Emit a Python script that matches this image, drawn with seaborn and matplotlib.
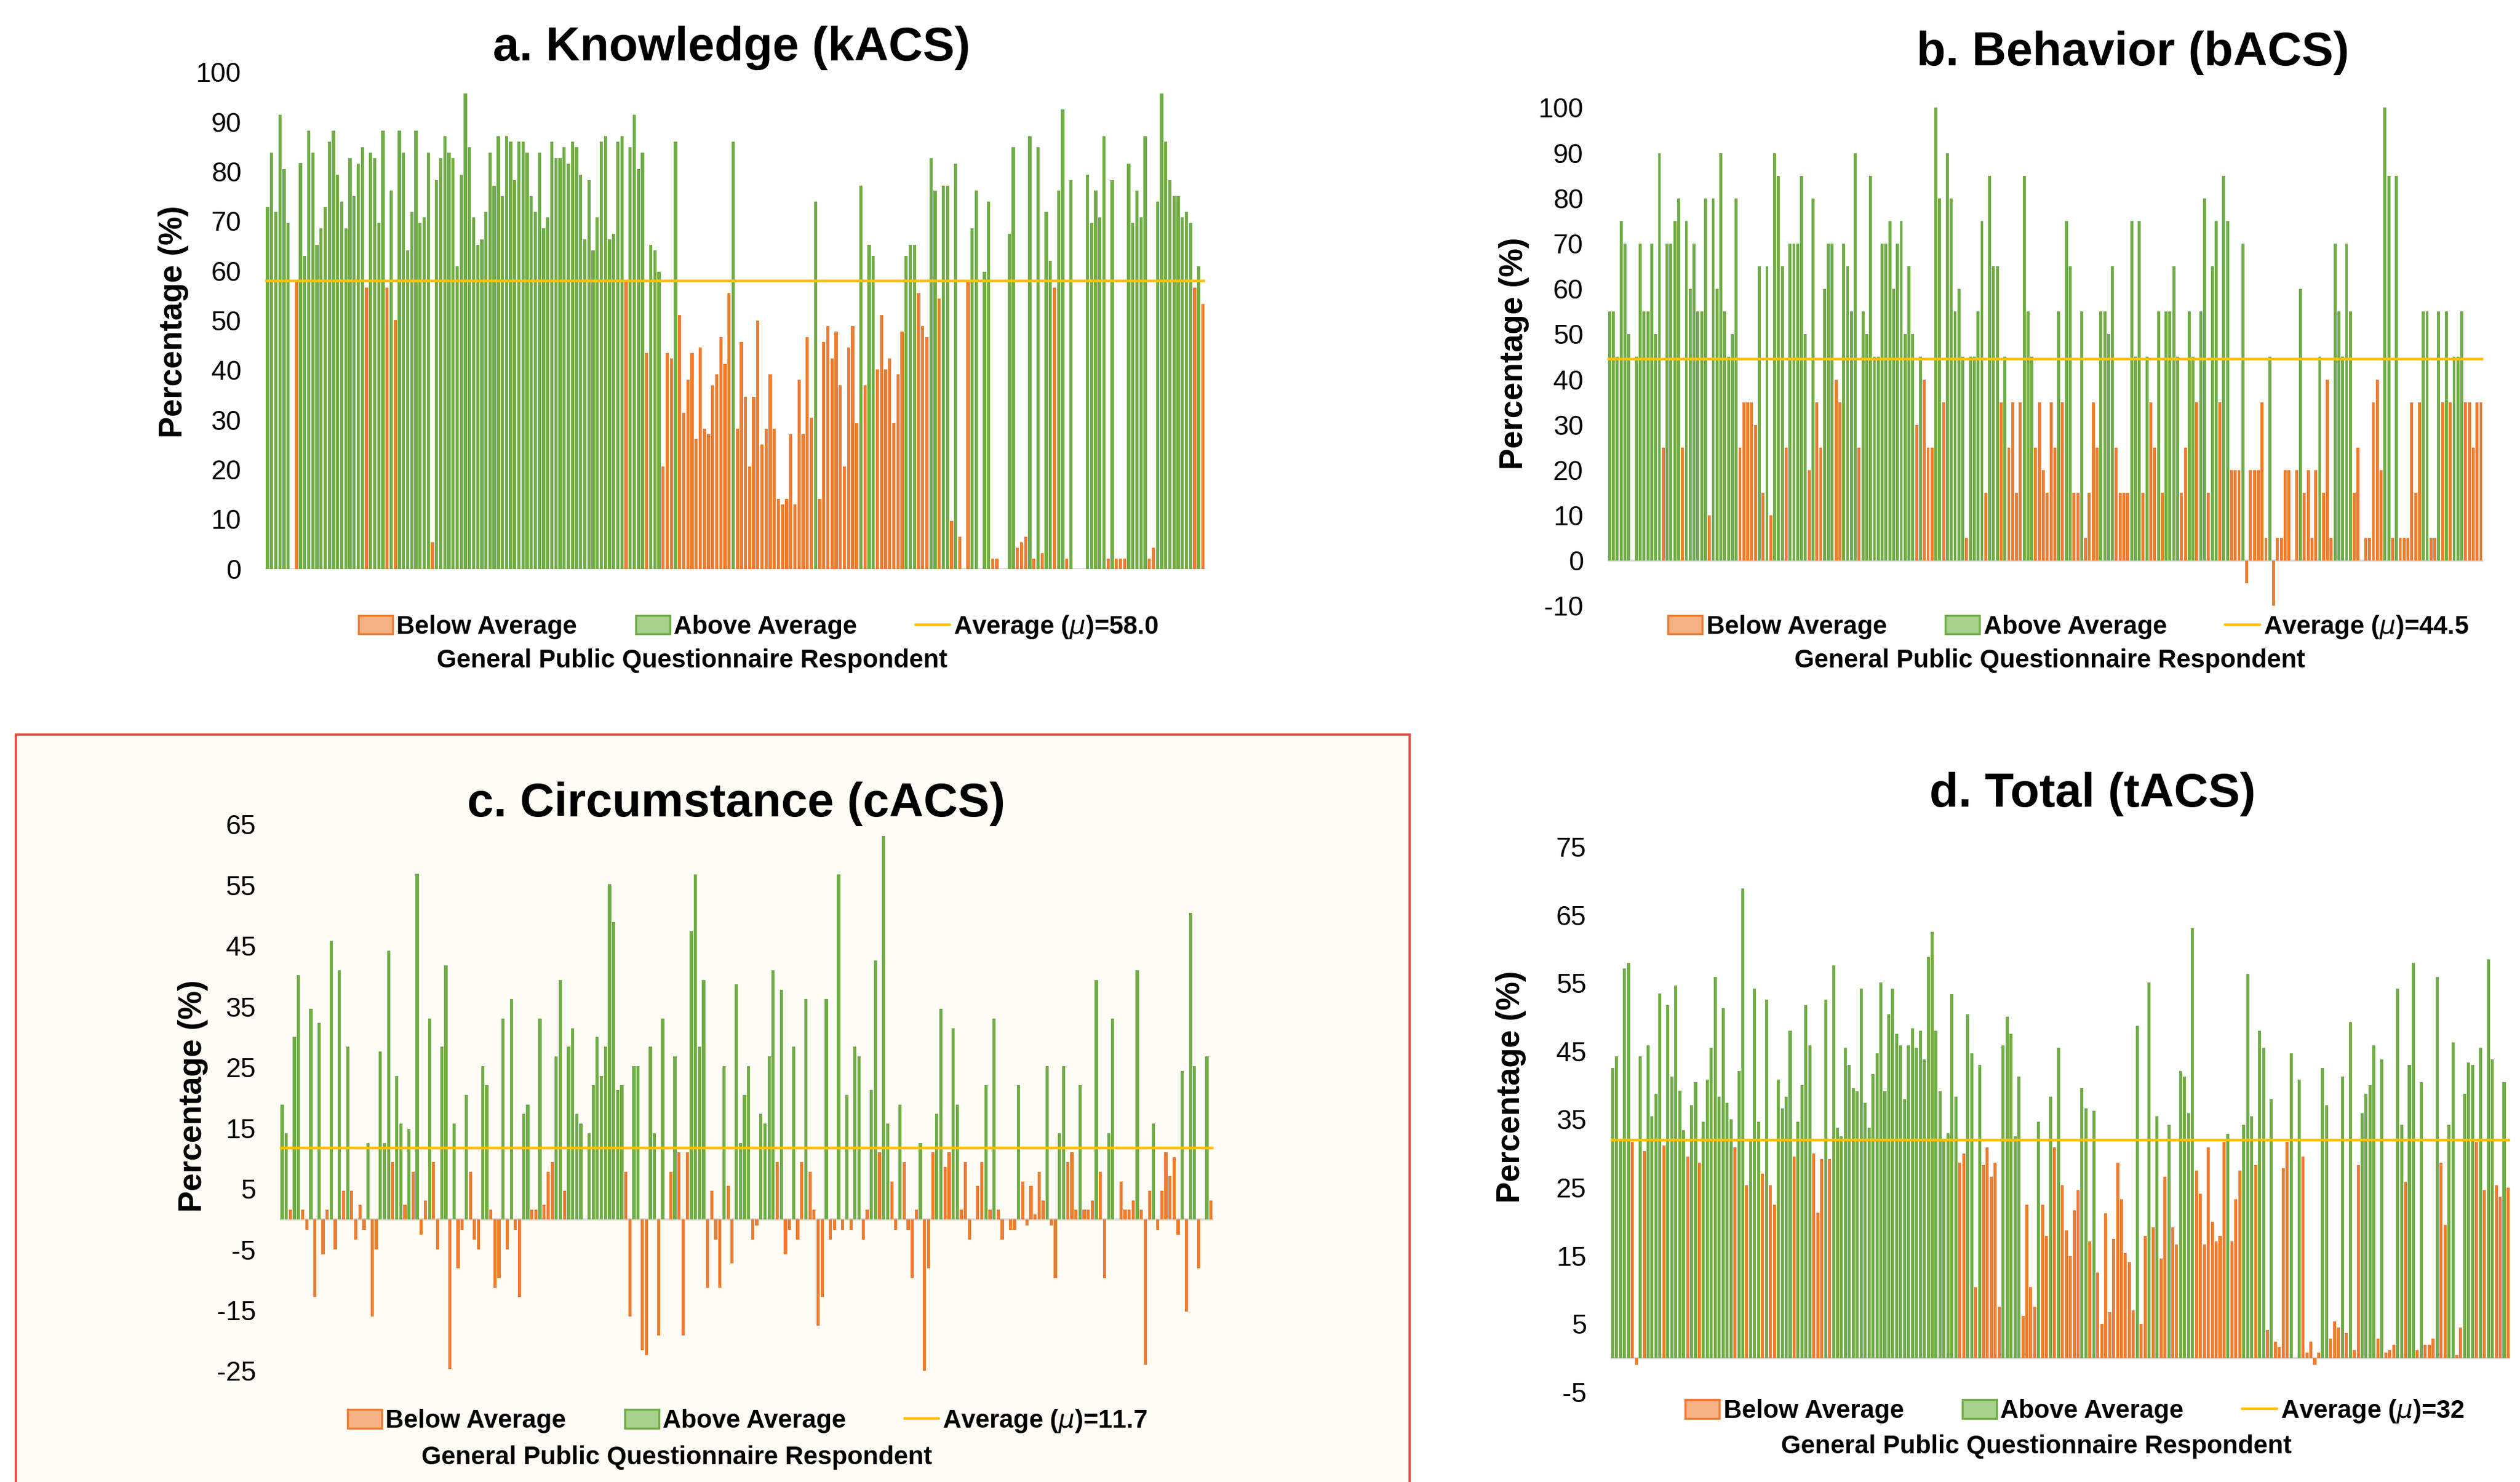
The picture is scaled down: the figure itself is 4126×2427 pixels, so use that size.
import numpy as np
import pandas as pd
import matplotlib
matplotlib.use("Agg")
import matplotlib.pyplot as plt
from matplotlib.patches import Patch, Rectangle
from matplotlib.lines import Line2D
import seaborn as sns

# scores per respondent
knowledge = [
    72.9, 83.8, 71.9, 91.4, 80.5, 69.7, 0, 57.7, 81.7, 63.1,
    88.2, 83.8, 65.3, 68.6, 72.9, 86.0, 88.2, 79.4, 74.0, 68.6,
    82.7, 75.1, 81.6, 84.9, 56.6, 83.8, 82.7, 69.7, 88.2, 56.6,
    76.2, 50.1, 88.2, 83.8, 64.2, 71.9, 88.2, 69.7, 70.8, 83.8,
    5.4, 78.3, 82.7, 87.1, 83.8, 82.7, 60.9, 79.4, 95.8, 84.9,
    70.8, 65.3, 66.4, 71.9, 83.8, 77.2, 87.1, 75.1, 87.1, 86.0,
    78.3, 86.0, 86.0, 83.8, 75.1, 71.9, 83.8, 68.6, 70.8, 86.0,
    82.7, 82.7, 84.9, 81.6, 86.0, 84.9, 79.4, 66.4,
    78.3, 64.2, 70.8, 86.0, 87.1, 66.4, 67.5, 86.0, 87.1, 57.7,
    84.9, 91.4, 80.5, 83.8, 43.5, 65.3, 64.2, 59.8, 20.6, 43.5,
    42.4, 86.0, 51.1, 31.5, 38.1, 43.5, 26.1, 44.6, 28.2, 27.2,
    37.0, 39.2, 46.7, 41.3, 55.5, 86.0, 28.2, 45.7, 34.7, 20.6,
    34.7, 50.0, 25.0, 28.2, 39.2, 28.2, 14.1, 13.0, 14.1, 27.2,
    13.0, 38.1, 27.2, 46.7, 30.4, 74.0, 14.1, 45.7, 48.9, 42.4,
    47.8, 37.0, 20.6, 44.6, 48.9, 29.3, 77.2, 37.0, 65.3, 63.1,
    40.2, 51.1, 40.2, 42.4, 29.3, 39.2, 47.8,
    63.1, 65.3, 65.3, 55.5, 48.9, 46.7, 82.7, 76.2, 54.4, 77.2,
    77.2, 9.7, 81.6, 6.5, 0, 57.7, 68.6, 76.2, 0, 59.8,
    74.0, 2.0, 2.0, 0, 0, 67.5, 84.9, 4.3, 5.4, 6.5,
    87.1, 2.0, 84.9, 3.2, 71.9, 62.0, 56.6, 76.2, 92.5, 2.0,
    78.3, 0, 0, 0, 79.4, 69.7, 76.2, 70.8, 87.1, 2.0,
    78.3, 2.0, 2.0, 2.0, 81.6, 69.7, 76.2, 70.8, 87.1, 2.0,
    4.3, 74.0, 95.8, 86.0, 78.3, 75.1, 75.1, 70.8, 71.9, 69.7,
    56.6, 60.9, 53.3,
]

behavior = [
    55, 55, 45, 75, 70, 50, 0, 45, 70, 55,
    55, 70, 50, 90, 25, 70, 70, 75, 80, 25,
    75, 60, 70, 55, 55, 80, 10, 80, 60, 90,
    55, 45, 50, 80, 25, 35, 35, 35, 30, 65,
    15, 65, 10, 90, 85, 65, 25, 70, 70, 70,
    85, 50, 20, 80, 35, 25, 60, 70, 70, 40,
    35, 70, 65, 55, 90, 25, 55, 50, 85, 45,
    45, 70, 70, 75, 60, 70, 75, 50,
    65, 50, 30, 45, 40, 25, 25, 100, 80, 35,
    90, 80, 55, 60, 45, 5, 45, 45, 55, 75,
    15, 85, 65, 65, 35, 45, 25, 35, 15, 35,
    85, 55, 45, 25, 35, 20, 15, 35, 25, 55,
    35, 75, 65, 15, 15, 55, 5, 15, 35, 25,
    55, 55, 50, 65, 25, 15, 15, 15, 75, 45,
    75, 15, 45, 35, 25, 55, 15, 55, 55, 65,
    45, 15, 25, 55, 45, 35, 55,
    80, 15, 65, 75, 35, 85, 75, 20, 20, 20,
    70, -5, 20, 20, 20, 35, 5, 45, -10, 5,
    5, 20, 20, 0, 20, 60, 15, 20, 5, 20,
    45, 15, 40, 5, 70, 55, 45, 70, 55, 15,
    25, 0, 5, 5, 35, 40, 20, 100, 85, 5,
    85, 5, 5, 5, 35, 15, 35, 55, 55, 5,
    5, 55, 35, 55, 35, 45, 45, 55, 35, 35,
    25, 35, 35,
]

circumstance = [
    18.9, 14.2, 1.6, 30.0, 40.2, 1.6, -1.7, 34.7, -12.8, 32.4,
    -5.7, 1.6, 45.8, -4.9, 41.0, 4.7, 28.4, 4.7, -3.3, 2.4,
    -1.7, 12.6, -16.0, -4.9, 27.6, 12.6, 44.2, 9.4, 23.6, 15.8,
    2.4, 14.9, 7.8, 56.9, -2.5, 3.1, 33.1, 9.4, -4.9, 28.4,
    41.8, -24.7, 15.8, -8.1, -1.7, 20.5, 7.8, -3.3, -4.9, 25.2,
    22.1, 1.6, -11.3, -9.7, 33.1, -4.9, 36.3, -1.7, -12.8, 17.4,
    18.9, 1.6, 1.6, 33.1, 2.4, 7.8, 9.4, 26.8, 39.4, 4.7,
    28.4, 31.5, 17.4, 15.8, 0, 14.2, 22.1, 30.0,
    23.6, 28.4, 55.2, 49.0, 21.3, 22.1, 7.8, -16.0, 25.2, 25.2,
    -21.5, -22.3, 28.4, 14.2, -19.1, 33.1, 0, 7.8, 26.8, 11.0,
    -19.1, 11.0, 47.4, 56.8, 28.4, 39.4, -11.3, 4.7, -3.3, -11.3,
    25.2, 5.5, -7.3, 38.7, 12.6, 20.5, 25.2, -3.3, -1.0, 17.4,
    15.8, 26.8, 41.0, 9.4, 37.8, -5.7, -1.7, 28.4, -3.3, 9.4,
    36.3, 7.8, 1.6, -17.5, -12.8, 36.3, -3.3, -1.7, 56.8, -1.7,
    20.5, -1.7, 28.4, 26.8, -3.3, 1.6, 21.3, 42.6, 11.0, 63.1,
    15.8, 6.2, -1.7, 18.9, 9.4,
    -1.7, -9.7, 1.6, 12.6, -25.3, -8.1, 11.0, 17.4, 34.7, 8.6,
    11.0, 31.5, 18.9, 1.6, 9.4, -3.3, 0, 5.5, 9.4, 22.1,
    1.6, 33.1, 1.6, -3.3, 0, -1.7, -1.7, 22.1, 6.2, -1.0,
    5.5, 0.8, 7.8, 3.1, 25.2, -1.0, -9.7, 14.2, 25.2, 9.4,
    11.0, 1.6, 22.1, 1.6, 1.6, 3.1, 39.4, 7.8, -9.7, 14.2,
    33.1, 0, 6.2, 1.6, 1.6, 3.1, 41.0, 1.6, -23.9, 4.7,
    15.8, -1.7, 4.7, 11.0, 7.1, 10.2, -2.5, 24.4, -15.2, 50.5,
    25.2, -8.1, 0, 26.8, 3.1,
]

total = [
    42.6, 44.3, 32.2, 57.2, 58.0, 31.7, -1.0, 44.3, 30.4, 45.9,
    35.5, 38.8, 53.5, 31.2, 51.8, 41.3, 54.7, 39.3, 33.4, 29.6,
    37.1, 40.5, 28.7, 34.7, 40.9, 45.5, 55.9, 38.4, 51.4, 37.5,
    35.0, 30.9, 42.1, 68.9, 25.4, 32.2, 54.2, 34.7, 27.1, 52.6,
    25.4, 22.5, 40.9, 36.7, 38.4, 48.0, 29.6, 34.7, 40.1, 51.8,
    45.9, 30.0, 21.3, 29.2, 52.6, 29.2, 57.6, 33.8, 32.5, 45.5,
    43.0, 39.6, 39.2, 54.2, 37.5, 33.8, 41.7, 44.7, 55.1, 39.2,
    50.5, 54.2, 47.6, 45.9, 38.0,
    45.9, 48.4, 45.5, 48.0, 43.8, 58.9, 62.6, 48.0, 39.2, 32.2,
    33.0, 53.4, 38.4, 28.7, 30.0, 50.5, 44.7, 10.4, 43.0, 28.3,
    30.9, 26.6, 28.7, 7.5, 45.9, 50.1, 47.6, 32.5, 41.3, 6.2,
    22.5, 10.4, 7.5, 34.7, 22.5, 17.9, 38.4, 30.9, 45.5, 25.4,
    18.7, 15.0, 21.7, 24.6, 39.6, 36.7, 17.1, 36.3, 12.5, 5.0,
    21.2, 6.7, 17.5, 28.7, 23.3, 15.4, 14.1, 7.0, 48.8, 5.0,
    17.9, 55.1, 19.2, 35.5, 14.6, 26.6, 34.2, 19.2, 16.7, 42.1,
    41.3, 35.9, 63.1,
    27.5, 24.1, 16.7, 30.9, 20.0, 17.1, 17.9, 31.7, 32.9, 17.1,
    23.3, 27.5, 34.2, 56.4, 35.5, 28.3, 48.0, 45.5, 4.1, 38.0,
    2.4, 1.6, 27.9, 31.7, 44.7, 0, 40.9, 29.6, 0.8, 2.4,
    -1.0, 0.8, 42.6, 37.1, 2.9, 5.4, 4.5, 41.3, 3.7, 49.3,
    1.2, 28.3, 35.9, 38.8, 40.1, 45.9, 2.9, 43.8, 0.8, 1.2,
    2.0, 54.2, 34.2, 25.8, 43.0, 58.0, 1.2, 40.5, 2.0, 2.0,
    2.9, 55.9, 28.7, 19.5, 34.2, 46.3, 0.4, 4.5, 38.8, 43.4,
    43.0, 31.7, 45.5, 24.6, 58.5, 43.8, 25.4, 23.7, 40.5, 25.0,
]

averages = [58.0, 44.5, 11.7, 32]
avg_labels = ["58.0", "44.5", "11.7", "32"]
titles = ["a. Knowledge (kACS)", "b. Behavior (bACS)",
          "c. Circumstance (cACS)", "d. Total (tACS)"]
yticks_list = [list(range(0, 101, 10)), list(range(-10, 101, 10)),
               list(range(-25, 66, 10)), list(range(-5, 76, 10))]

ORANGE = "#ED7D31"
GREEN = "#70AD47"
GOLD = "#FFC000"

sns.set_theme(style="white")
plt.rcParams["font.family"] = ["Liberation Sans", "DejaVu Sans"]
plt.rcParams["axes.unicode_minus"] = False
plt.rcParams["text.color"] = "black"

fig = plt.figure(figsize=(20.63, 12.135), dpi=200)

# cream box with red border around panel c
box = Rectangle((0.0064, -0.01), 0.5529, 0.5143, transform=fig.transFigure,
                facecolor="#FEFCF5", edgecolor="#E8463A", lw=1.3, zorder=-1)
fig.add_artist(box)

# positions in figure fractions (left, bottom, width, height)
axes_pos = [(0.1052, 0.6161, 0.3731, 0.3351),
            (0.6378, 0.5911, 0.3476, 0.3362),
            (0.1110, 0.0748, 0.3705, 0.3688),
            (0.6390, 0.0607, 0.3572, 0.3677)]
title_pos = [(0.2902, 0.9675), (0.8463, 0.9642), (0.2921, 0.4577), (0.8304, 0.4642)]
ylab_pos = [(0.0689, 0.783), (0.6008, 0.7614), (0.0765, 0.2603), (0.5995, 0.2668)]
leg_pos = [(0.3010, 0.5770), (0.8208, 0.5770), (0.2966, 0.0412), (0.8233, 0.0477)]
xlab_pos = [(0.2746, 0.5542), (0.8135, 0.5542), (0.2685, 0.0163), (0.8080, 0.0239)]

series = [knowledge, behavior, circumstance, total]

for i, vals in enumerate(series):
    ax = fig.add_axes(axes_pos[i])
    ax.set_facecolor("none")
    avg = averages[i]
    df = pd.DataFrame({"respondent": np.arange(len(vals)), "score": vals})
    df["group"] = np.where(df["score"] >= avg, "Above Average", "Below Average")
    sns.barplot(data=df, x="respondent", y="score", hue="group",
                hue_order=["Below Average", "Above Average"],
                palette={"Below Average": ORANGE, "Above Average": GREEN},
                dodge=False, width=0.78, saturation=1, errorbar=None,
                legend=False, ax=ax, zorder=2, linewidth=0, edgecolor="none")
    n = len(vals)
    ax.set_xlim(-0.6, n - 0.4)
    ax.axhline(0, color="#D9D9D9", lw=1.3, zorder=1)
    ax.axhline(avg, color=GOLD, lw=1.6, zorder=3)
    yt = yticks_list[i]
    ax.set_ylim(yt[0], yt[-1])
    ax.set_yticks(yt)
    ax.set_xticks([])
    ax.set_xlabel("")
    ax.set_ylabel("")
    ax.tick_params(axis="y", length=0, pad=14, labelsize=16, labelcolor="black")
    for s in ax.spines.values():
        s.set_visible(False)

    fig.text(*title_pos[i], titles[i], ha="center", va="center",
             fontsize=28, fontweight="bold")
    fig.text(*ylab_pos[i], "Percentage (%)", ha="center", va="center",
             rotation=90, fontsize=19, fontweight="bold")
    fig.text(*xlab_pos[i], "General Public Questionnaire Respondent",
             ha="center", va="center", fontsize=15, fontweight="bold")

    handles = [Patch(facecolor="#F4B183", edgecolor=ORANGE, lw=1.2),
               Patch(facecolor="#A9D18E", edgecolor=GREEN, lw=1.2),
               Line2D([], [], color=GOLD, lw=1.6)]
    labels = ["Below Average", "Above Average",
              r"Average ($\mu$)=" + avg_labels[i]]
    fig.legend(handles, labels, loc="center", bbox_to_anchor=leg_pos[i],
               ncol=3, frameon=False, prop={"weight": "bold", "size": 15},
               handlelength=1.35, handleheight=0.75, handletextpad=0.15,
               columnspacing=2.3, borderaxespad=0)

fig.savefig("out.png", dpi=200)
